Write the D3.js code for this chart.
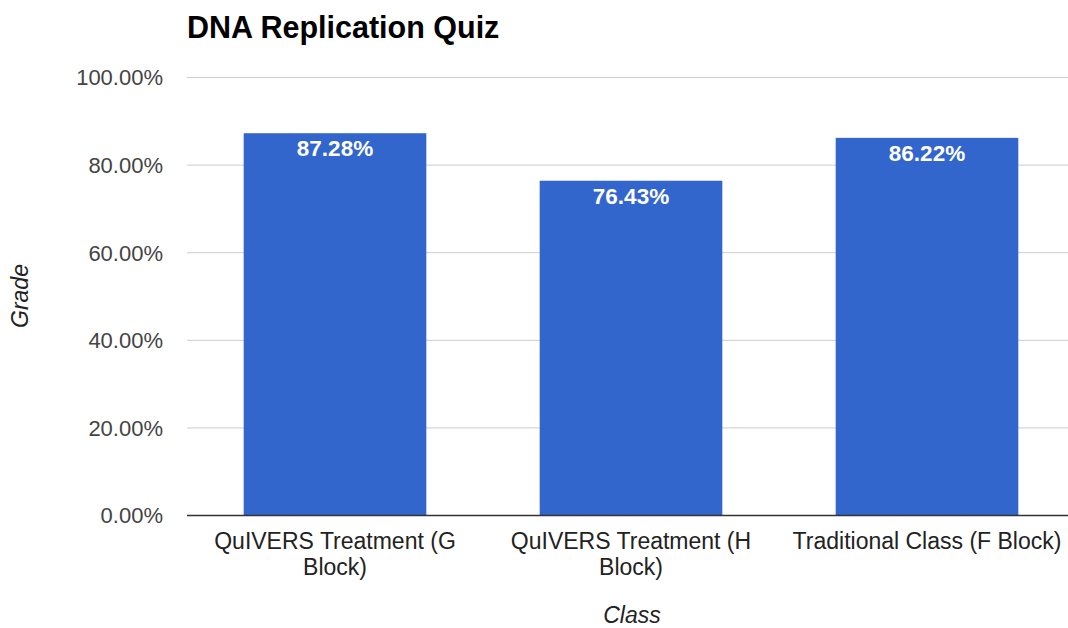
<!DOCTYPE html>
<html><head><meta charset="utf-8">
<script src="https://cdn.jsdelivr.net/npm/d3@7"></script>
<style>body{margin:0;background:#fff}svg{display:block;font-family:Arial,"Liberation Sans",sans-serif}</style>
</head><body><svg id="c" width="1068" height="628"></svg>
<script>
const categories = ["QuIVERS Treatment (G Block)", "QuIVERS Treatment (H Block)", "Traditional Class (F Block)"];
const grades = [87.28, 76.43, 86.22];
const yTicks = [0, 20, 40, 60, 80, 100];
const title = "DNA Replication Quiz";
const xTitle = "Class";
const yTitle = "Grade";

const svg = d3.select("#c");
const mLeft = 187, mRight = 1075, mTop = 77.5, mBottom = 515.5;
const x = d3.scaleBand().domain(categories).range([mLeft, mRight]).paddingInner(0.383).paddingOuter(0.1915);
const y = d3.scaleLinear().domain([0, 100]).range([mBottom, mTop]);

// gridlines
svg.append("g").selectAll("line").data(yTicks.filter(d => d > 0)).join("line")
  .attr("x1", mLeft).attr("x2", 1068)
  .attr("y1", d => y(d)).attr("y2", d => y(d))
  .attr("stroke", "#cccccc").attr("stroke-width", 1);

// y tick labels
svg.append("g").selectAll("text").data(yTicks).join("text")
  .attr("x", 163).attr("y", d => y(d)).attr("dy", "0.36em")
  .attr("text-anchor", "end").attr("font-size", 22).attr("fill", "#444")
  .text(d => d.toFixed(2) + "%");

// bars
svg.append("g").selectAll("rect").data(grades).join("rect")
  .attr("x", (d, i) => x(categories[i])).attr("width", x.bandwidth())
  .attr("y", d => y(d)).attr("height", d => y(0) - y(d))
  .attr("fill", "#3366cc");

// value labels
svg.append("g").selectAll("text").data(grades).join("text")
  .attr("x", (d, i) => x(categories[i]) + x.bandwidth() / 2)
  .attr("y", d => y(d) + 23)
  .attr("text-anchor", "middle").attr("font-size", 22.5).attr("font-weight", "bold")
  .attr("fill", "#ffffff")
  .text(d => d.toFixed(2) + "%");

// baseline
svg.append("line").attr("x1", mLeft).attr("x2", 1068).attr("y1", y(0)).attr("y2", y(0))
  .attr("stroke", "#333").attr("stroke-width", 1.5);

// category labels with wrapping
const maxW = 285;
categories.forEach((c, i) => {
  const cx = x(c) + x.bandwidth() / 2;
  const t = svg.append("text").attr("text-anchor", "middle").attr("font-size", 23).attr("fill", "#222");
  const words = c.split(" ");
  let lines = [], cur = [];
  const probe = svg.append("text").attr("font-size", 23);
  words.forEach(w => {
    const test = cur.concat([w]).join(" ");
    probe.text(test);
    if (probe.node().getComputedTextLength() > maxW && cur.length) { lines.push(cur.join(" ")); cur = [w]; }
    else cur.push(w);
  });
  lines.push(cur.join(" "));
  probe.remove();
  lines.forEach((l, k) => t.append("tspan").attr("x", cx).attr("y", 549 + k * 25.5).text(l));
});

// title
svg.append("text").attr("x", 187).attr("y", 38).attr("font-size", 30.5).attr("font-weight", "bold")
  .attr("fill", "#000").text(title);

// axis titles
svg.append("text").attr("x", 632).attr("y", 623).attr("text-anchor", "middle")
  .attr("font-size", 23).attr("font-style", "italic").attr("fill", "#222").text(xTitle);
svg.append("text").attr("transform", "translate(28,296) rotate(-90)").attr("text-anchor", "middle")
  .attr("font-size", 23).attr("font-style", "italic").attr("fill", "#222").text(yTitle);
</script></body></html>
